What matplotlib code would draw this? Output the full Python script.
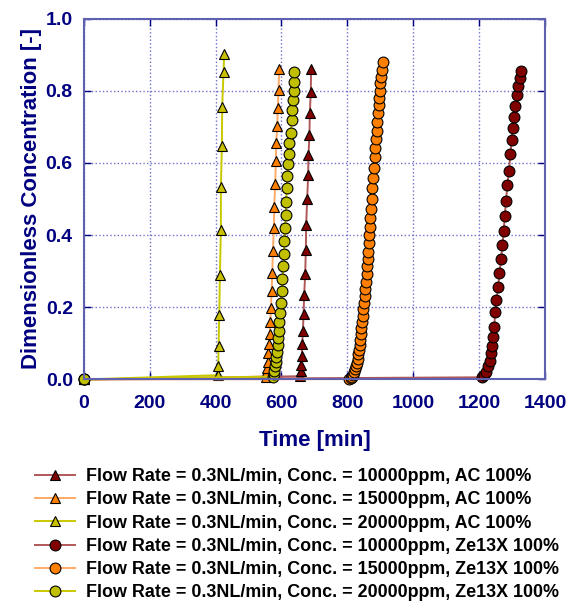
"""Breakthrough curves for AC and Ze13X beds"""
import matplotlib

matplotlib.use("Agg")
import matplotlib.pyplot as plt

# AC 100%, triangles
ac10_t = [0, 657, 659, 660, 662, 663, 665, 667, 669, 672, 674, 675, 678, 681, 682, 685, 686, 689, 690]
ac10_c = [0, 0.009, 0.023, 0.041, 0.064, 0.097, 0.133, 0.181, 0.235, 0.292, 0.359, 0.428,
          0.499, 0.566, 0.622, 0.677, 0.737, 0.797, 0.859]

ac15_t = [0, 552, 554, 556, 558, 560, 562, 564, 566, 568, 570, 572, 574, 577, 578, 581, 583,
          584, 587, 589, 591, 593]
ac15_c = [0, 0.008, 0.017, 0.031, 0.049, 0.072, 0.098, 0.126, 0.158, 0.197, 0.245, 0.294,
          0.356, 0.421, 0.479, 0.542, 0.604, 0.654, 0.702, 0.753, 0.802, 0.859]

ac20_t = [0, 408, 408, 409, 411, 413, 416, 416, 419, 420, 424, 426]
ac20_c = [0, 0.012, 0.037, 0.093, 0.179, 0.289, 0.414, 0.534, 0.647, 0.756, 0.853, 0.902]

# Ze13X 100%, circles
ze10_t = [0, 1209, 1214, 1220, 1226, 1232, 1237, 1240, 1243, 1246, 1249, 1253, 1258, 1262,
          1267, 1271, 1275, 1278, 1282, 1286, 1291, 1295, 1299, 1302, 1306, 1310, 1314, 1317,
          1323, 1327]
ze10_c = [0, 0.006, 0.012, 0.022, 0.036, 0.051, 0.072, 0.093, 0.117, 0.146, 0.186, 0.220,
          0.257, 0.294, 0.335, 0.373, 0.412, 0.453, 0.495, 0.539, 0.578, 0.624, 0.663, 0.698,
          0.728, 0.759, 0.788, 0.814, 0.834, 0.855]

ze15_t = [0, 806, 810, 814, 817, 820, 823, 826, 828, 831, 833, 835, 837, 839, 841, 843, 845,
          847, 849, 851, 853, 855, 857, 859, 861, 863, 864, 866, 867, 868, 869, 872, 874, 876,
          878, 880, 883, 885, 887, 889, 891, 893, 895, 896, 898, 900, 902, 905, 907]
ze15_c = [0, 0.001, 0.003, 0.008, 0.013, 0.020, 0.028, 0.037, 0.047, 0.058, 0.070, 0.082,
          0.096, 0.109, 0.126, 0.142, 0.158, 0.176, 0.194, 0.213, 0.231, 0.250, 0.271, 0.292,
          0.313, 0.333, 0.354, 0.377, 0.400, 0.423, 0.446, 0.471, 0.499, 0.530, 0.557, 0.585,
          0.615, 0.640, 0.665, 0.689, 0.714, 0.737, 0.760, 0.781, 0.800, 0.820, 0.839, 0.857,
          0.879]

ze20_t = [0, 574, 576, 578, 580, 582, 584, 586, 588, 590, 592, 594, 596, 598, 601, 603, 606,
          608, 609, 611, 613, 614, 616, 618, 620, 622, 624, 628, 631, 633, 635, 637, 639, 639]
ze20_c = [0, 0.008, 0.015, 0.024, 0.036, 0.048, 0.061, 0.077, 0.095, 0.114, 0.135, 0.159,
          0.185, 0.213, 0.245, 0.278, 0.313, 0.348, 0.385, 0.419, 0.456, 0.493, 0.530, 0.564,
          0.597, 0.625, 0.654, 0.682, 0.719, 0.747, 0.774, 0.800, 0.825, 0.851]

labels = [
    "Flow Rate = 0.3NL/min, Conc. = 10000ppm, AC 100%",
    "Flow Rate = 0.3NL/min, Conc. = 15000ppm, AC 100%",
    "Flow Rate = 0.3NL/min, Conc. = 20000ppm, AC 100%",
    "Flow Rate = 0.3NL/min, Conc. = 10000ppm, Ze13X 100%",
    "Flow Rate = 0.3NL/min, Conc. = 15000ppm, Ze13X 100%",
    "Flow Rate = 0.3NL/min, Conc. = 20000ppm, Ze13X 100%",
]

NAVY = "#000080"


def main():
    plt.rcParams["font.family"] = ["Liberation Sans", "DejaVu Sans"]
    plt.rcParams["font.weight"] = "bold"

    fig = plt.figure(figsize=(5.67, 6.01), dpi=100)
    ax = fig.add_axes([0.148, 0.3686, 0.813, 0.6006])

    series = [
        (ac10_t, ac10_c, "^", "#800000", "#b05858", 7.2),
        (ac15_t, ac15_c, "^", "#ff8000", "#ffaa66", 7.2),
        (ac20_t, ac20_c, "^", "#c8c000", "#c8c800", 7.2),
        (ze10_t, ze10_c, "o", "#800000", "#b05858", 7.8),
        (ze15_t, ze15_c, "o", "#ff8000", "#ffaa66", 7.8),
        (ze20_t, ze20_c, "o", "#c0c000", "#c8c800", 7.8),
    ]
    for (t, c, mk, mcol, lcol, ms), lab in zip(series, labels):
        ax.plot(t, c, color=lcol, lw=1.4, marker=mk, markersize=ms,
                markerfacecolor=mcol, markeredgecolor="black", markeredgewidth=0.8,
                label=lab, clip_on=False)

    ax.set_xlim(0, 1400)
    ax.set_ylim(0, 1.0)
    ax.set_xticks(range(0, 1401, 200))
    ax.set_yticks([0, 0.2, 0.4, 0.6, 0.8, 1.0])
    ax.set_yticklabels(["0.0", "0.2", "0.4", "0.6", "0.8", "1.0"])
    ax.grid(True, linestyle=":", color="#7070cc", lw=1)
    ax.set_axisbelow(True)
    for s in ax.spines.values():
        s.set_color("#6060b0")
        s.set_linewidth(1.5)
    ax.tick_params(direction="in", length=5, width=1, color=NAVY, labelcolor=NAVY,
                   labelsize=14, top=True, right=True, pad=8)
    ax.tick_params(axis="x", pad=11)
    for lbl in ax.get_xticklabels() + ax.get_yticklabels():
        lbl.set_fontweight("bold")

    ax.set_xlabel("Time [min]", fontsize=16, fontweight="bold", color=NAVY, labelpad=13)
    ax.set_ylabel("Dimensionless Concentration [-]", fontsize=16, fontweight="bold",
                  color=NAVY, labelpad=3)

    leg = fig.legend(loc="upper left", bbox_to_anchor=(35 / 567, (601 - 468) / 601),
                     frameon=False, fontsize=12.9, borderpad=0, borderaxespad=0,
                     handlelength=2.25, handletextpad=0.6, labelspacing=0.35)
    for txt in leg.get_texts():
        txt.set_fontweight("bold")

    fig.savefig("out.png", dpi=100)


if __name__ == "__main__":
    main()
